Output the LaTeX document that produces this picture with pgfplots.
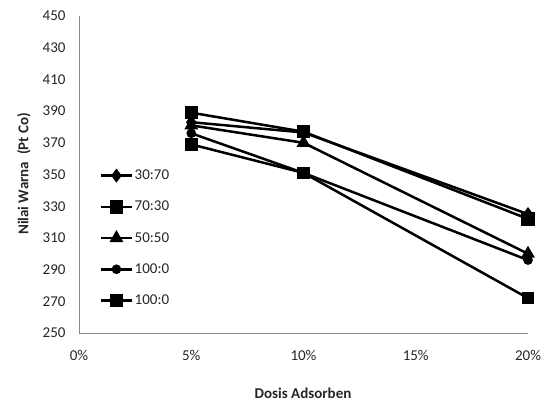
\documentclass[border=0pt]{standalone}
\usepackage{pgfplots}
\pgfplotsset{compat=1.18}
\usepackage{fontspec}
\setmainfont{Carlito}
\definecolor{axisgray}{HTML}{868686}
\definecolor{txt}{HTML}{262626}
\newcommand{\chartfont}{\fontsize{15bp}{18bp}\selectfont}

\begin{document}
\begin{tikzpicture}
\useasboundingbox (-79bp,-73bp) rectangle (466bp,333bp);
\begin{axis}[
  scale only axis, width=449bp, height=317bp,
  xmin=0, xmax=20, ymin=250, ymax=450,
  axis x line=bottom, axis y line=left,
  axis line style={-, axisgray, line width=0.8bp},
  major tick length=0pt,
  xtick={0,5,10,15,20},
  xticklabels={0\%,5\%,10\%,15\%,20\%},
  ytick={250,270,...,450},
  /pgf/number format/assume math mode=true,
  tick label style={font=\chartfont, text=txt},
  yticklabel style={xshift=-10bp},
  xticklabel style={yshift=-14bp},
  every axis plot/.append style={black, line width=2.5bp, mark options={solid}},
  legend cell align=left,
  legend style={at={(21bp,0.518)}, anchor=north west, draw=none, fill=none,
    font=\chartfont, text=txt, row sep=18bp,
    inner sep=0pt, nodes={inner sep=1pt}},
  legend image code/.code={%
    \draw[mark repeat=2, mark phase=2, #1] plot coordinates {(0bp,0bp) (15bp,0bp) (31bp,0bp)};},
]
\addplot[mark=diamond*, mark size=5bp] coordinates {(5,383) (10,376.5) (20,325)};
\addlegendentry{30:70}
\addplot[mark=square*, mark size=5.5bp] coordinates {(5,389) (10,377) (20,322)};
\addlegendentry{70:30}
\addplot[mark=triangle*, mark size=5.5bp] coordinates {(5,381) (10,370) (20,300)};
\addlegendentry{50:50}
\addplot[mark=*, mark size=3.5bp] coordinates {(5,376) (10,351) (20,296)};
\addlegendentry{100:0}
\addplot[mark=square*, mark size=5bp] coordinates {(5,369) (10,351) (20,272)};
\addlegendentry{100:0}
\end{axis}
\node[rotate=90, font=\chartfont\bfseries, text=txt] at (-55bp,159bp) {Nilai Warna\ \ (Pt Co)};
\node[font=\chartfont\bfseries, text=txt] at (224bp,-60bp) {Dosis Adsorben};
\end{tikzpicture}
\end{document}
